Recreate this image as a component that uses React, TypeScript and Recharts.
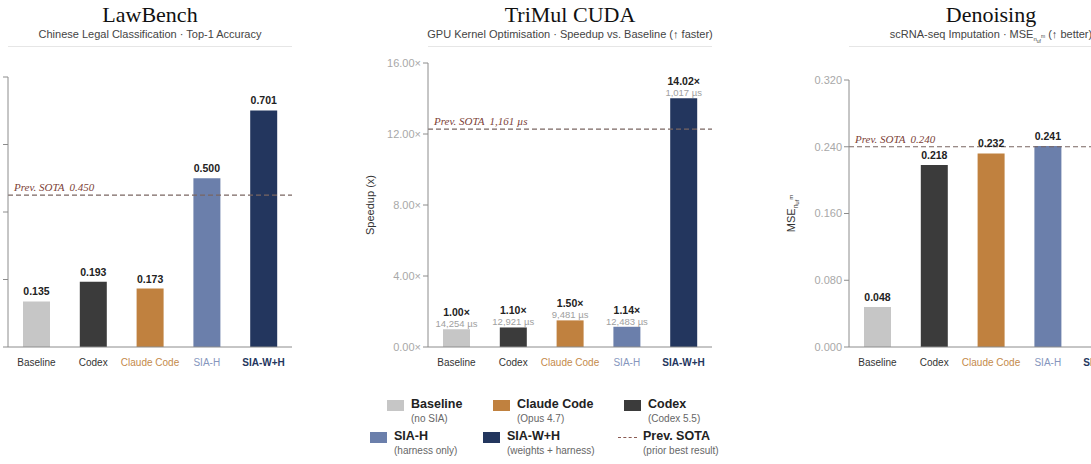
import React from 'react';
import { BarChart, Bar, XAxis, YAxis, Cell, LabelList, ReferenceLine } from 'recharts';

// categories shared by the three panels
const CATEGORIES = ['Baseline', 'Codex', 'Claude Code', 'SIA-H', 'SIA-W+H'];

// LawBench – top-1 accuracy
const LAW_VALUES = [0.135, 0.193, 0.173, 0.5, 0.701];
const LAW_TICKS = [0, 0.2, 0.4, 0.6, 0.8];
const LAW_SOTA = 0.45;

// TriMul CUDA – speedup vs baseline, runtime in µs
const TRIMUL_SPEEDUP = [1.0, 1.1, 1.5, 1.14, 14.02];
const TRIMUL_US = ['14,254 µs', '12,921 µs', '9,481 µs', '12,483 µs', '1,017 µs'];
const TRIMUL_TICKS = [0, 4, 8, 12, 16];
const TRIMUL_SOTA = 12.28; // 14,254 / 1,161
const TRIMUL_SOTA_TEXT = '1,161 µs';

// Denoising – MSE
const DENOISE_VALUES = [0.048, 0.218, 0.232, 0.241, 0.29];
const DENOISE_TICKS = [0, 0.08, 0.16, 0.24, 0.32];
const DENOISE_SOTA = 0.24;

const BAR_COLORS = ['#c6c6c6', '#3b3b3b', '#c0813f', '#6b7fab', '#23365e'];
const TICK_COLORS = ['#333333', '#333333', '#c48a4a', '#8696bd', '#23365e'];

// legend
const LEGEND_LABELS = ['Baseline', 'Claude Code', 'Codex', 'SIA-H', 'SIA-W+H', 'Prev. SOTA'];
const LEGEND_NOTES = ['(no SIA)', '(Opus 4.7)', '(Codex 5.5)', '(harness only)', '(weights + harness)', '(prior best result)'];
const LEGEND_COLORS = ['#c6c6c6', '#c0813f', '#3b3b3b', '#6b7fab', '#23365e', null];

const SANS = '"Liberation Sans", Arial, Helvetica, sans-serif';
const SERIF = '"Liberation Serif", "Times New Roman", serif';

const PLOT_W = 284;
const PLOT_BOTTOM = 347;
const Y_AXIS_W = 70;
const CHART_H = 400;
const X_AXIS_H = 30;

function XTick(props: any) {
  const { x, y, payload } = props;
  const i = CATEGORIES.indexOf(payload.value);
  return (
    <text
      x={x}
      y={y + 19}
      textAnchor="middle"
      fontSize={10}
      fontFamily={SANS}
      fontWeight={i === 4 ? 700 : 400}
      fill={TICK_COLORS[i]}
    >
      {payload.value}
    </text>
  );
}

function SotaLabel(props: any) {
  const { viewBox, text } = props;
  if (!viewBox) return null;
  return (
    <text
      x={viewBox.x + 6}
      y={viewBox.y - 4}
      fontSize={11}
      fontStyle="italic"
      fontFamily={SERIF}
      fill="#7d3f38"
    >
      Prev. SOTA
      <tspan dx={5}>{text}</tspan>
    </text>
  );
}

function YTitle(props: any) {
  const { viewBox, text, mse } = props;
  if (!viewBox) return null;
  const x = viewBox.x + 16;
  const y = viewBox.y + viewBox.height / 2;
  return (
    <text
      x={x}
      y={y}
      transform={`rotate(-90 ${x} ${y})`}
      textAnchor="middle"
      fontSize={11}
      fontFamily={SANS}
      fill="#333"
    >
      {text}
      {mse && (
        <>
          <tspan fontSize={7} dy={3}>n</tspan>
          <tspan fontSize={5.5} dy={1}>uf</tspan>
          <tspan fontSize={6} dy={-6}>m</tspan>
        </>
      )}
    </text>
  );
}

function simpleValueLabel(fmt: (v: number) => string) {
  return (props: any) => {
    const { x, y, width, value } = props;
    return (
      <text
        x={x + width / 2}
        y={y - 6}
        textAnchor="middle"
        fontSize={10.5}
        fontWeight={700}
        fontFamily={SANS}
        fill="#222"
      >
        {fmt(value)}
      </text>
    );
  };
}

function Panel(props: any) {
  const { plotLeft, plotTop, title, subtitle, data, ticks, fmt, sota, sotaText, yTitle, children } = props;
  const chartLeft = plotLeft - Y_AXIS_W;
  return (
    <>
      <div
        style={{
          position: 'absolute',
          left: plotLeft - 80,
          width: PLOT_W + 160,
          top: 2,
          textAlign: 'center',
          fontFamily: SERIF,
          fontSize: 22,
          lineHeight: '26px',
          color: '#111',
          whiteSpace: 'nowrap'
        }}
      >
        {title}
      </div>
      <div
        style={{
          position: 'absolute',
          left: plotLeft - 80,
          width: PLOT_W + 160,
          top: 28,
          textAlign: 'center',
          fontFamily: SANS,
          fontSize: 11,
          lineHeight: '13px',
          color: '#444',
          whiteSpace: 'nowrap'
        }}
      >
        {subtitle}
      </div>
      <div style={{ position: 'absolute', left: plotLeft, width: PLOT_W, top: 46, height: 1, background: '#e6e6e6' }} />
      <div style={{ position: 'absolute', left: chartLeft, top: 0 }}>
        <BarChart
          width={Y_AXIS_W + PLOT_W + 10}
          height={CHART_H}
          data={data}
          margin={{ top: plotTop, right: 10, bottom: CHART_H - PLOT_BOTTOM - X_AXIS_H, left: 0 }}
        >
          <XAxis
            dataKey="name"
            height={X_AXIS_H}
            interval={0}
            tickLine={false}
            tickSize={0}
            tickMargin={0}
            stroke="#8c8c8c"
            tick={<XTick />}
          />
          <YAxis
            width={Y_AXIS_W}
            domain={[ticks[0], ticks[ticks.length - 1]]}
            ticks={ticks}
            tickFormatter={fmt}
            stroke="#8c8c8c"
            tickSize={5}
            tickMargin={2}
            tick={{ fontSize: 11, fill: '#a8a8a8', fontFamily: SANS }}
            label={yTitle}
          />
          <ReferenceLine
            y={sota}
            stroke="#7a6662"
            strokeDasharray="5 3"
            strokeWidth={1.2}
            label={<SotaLabel text={sotaText} />}
          />
          <Bar dataKey="value" barSize={27} isAnimationActive={false}>
            {data.map((_: any, i: number) => (
              <Cell key={i} fill={BAR_COLORS[i]} />
            ))}
            {children}
          </Bar>
        </BarChart>
      </div>
    </>
  );
}

function Legend() {
  // x of swatch, x of text, row
  const pos = [
    { sx: 387, tx: 411, row: 0 },
    { sx: 493, tx: 517, row: 0 },
    { sx: 624, tx: 648, row: 0 },
    { sx: 370, tx: 394, row: 1 },
    { sx: 483, tx: 507, row: 1 },
    { sx: 618, tx: 643, row: 1 }
  ];
  return (
    <>
      {LEGEND_LABELS.map((label, i) => {
        const p = pos[i];
        const top = p.row === 0 ? 398 : 430;
        const color = LEGEND_COLORS[i];
        return (
          <React.Fragment key={label}>
            {color ? (
              <div style={{ position: 'absolute', left: p.sx, top: top + 2, width: 17, height: 11, background: color }} />
            ) : (
              <div
                style={{
                  position: 'absolute',
                  left: p.sx,
                  top: top + 7,
                  width: 19,
                  height: 0,
                  borderTop: '1.5px dashed #8a5a52'
                }}
              />
            )}
            <div
              style={{
                position: 'absolute',
                left: p.tx,
                top: top - 1,
                fontFamily: SANS,
                fontWeight: 700,
                fontSize: 12.5,
                lineHeight: '15px',
                color: '#222',
                whiteSpace: 'nowrap'
              }}
            >
              {label}
            </div>
            <div
              style={{
                position: 'absolute',
                left: p.tx,
                top: top + 15,
                fontFamily: SANS,
                fontSize: 10,
                lineHeight: '12px',
                color: '#666',
                whiteSpace: 'nowrap'
              }}
            >
              {LEGEND_NOTES[i]}
            </div>
          </React.Fragment>
        );
      })}
    </>
  );
}

export default function App() {
  const lawData = CATEGORIES.map((name, i) => ({ name, value: LAW_VALUES[i] }));
  const triData = CATEGORIES.map((name, i) => ({ name, value: TRIMUL_SPEEDUP[i], us: TRIMUL_US[i] }));
  const denData = CATEGORIES.map((name, i) => ({ name, value: DENOISE_VALUES[i] }));

  const speedupLabel = (props: any) => {
    const { x, y, width, value } = props;
    return (
      <text x={x + width / 2} y={y - 13} textAnchor="middle" fontSize={10.5} fontWeight={700} fontFamily={SANS} fill="#222">
        {value.toFixed(2)}×
      </text>
    );
  };
  const usLabel = (props: any) => {
    const { x, y, width, value } = props;
    return (
      <text x={x + width / 2} y={y - 2} textAnchor="middle" fontSize={9.5} fontFamily={SANS} fill="#a0a0a0">
        {value}
      </text>
    );
  };

  return (
    <div
      style={{
        position: 'absolute',
        left: 0,
        top: 0,
        width: 1091,
        height: 464,
        overflow: 'hidden',
        background: '#fff'
      }}
    >
      <Panel
        plotLeft={8}
        plotTop={77}
        title="LawBench"
        subtitle="Chinese Legal Classification · Top-1 Accuracy"
        data={lawData}
        ticks={LAW_TICKS}
        fmt={() => ''}
        sota={LAW_SOTA}
        sotaText={LAW_SOTA.toFixed(3)}
      >
        <LabelList dataKey="value" content={simpleValueLabel((v) => v.toFixed(3))} />
      </Panel>
      <Panel
        plotLeft={428}
        plotTop={63}
        title="TriMul CUDA"
        subtitle="GPU Kernel Optimisation · Speedup vs. Baseline (↑ faster)"
        data={triData}
        ticks={TRIMUL_TICKS}
        fmt={(v: number) => `${v.toFixed(2)}×`}
        sota={TRIMUL_SOTA}
        sotaText={TRIMUL_SOTA_TEXT}
        yTitle={<YTitle text="Speedup (x)" />}
      >
        <LabelList dataKey="value" content={speedupLabel} />
        <LabelList dataKey="us" content={usLabel} />
      </Panel>
      <Panel
        plotLeft={849}
        plotTop={80}
        title="Denoising"
        subtitle={
          <>
            scRNA-seq Imputation · MSE
            <sub style={{ fontSize: 6, lineHeight: 0 }}>
              n<sub style={{ fontSize: 5, lineHeight: 0 }}>uf</sub>
              <sup style={{ fontSize: 5, lineHeight: 0 }}>m</sup>
            </sub>{' '}
            (↑ better)
          </>
        }
        data={denData}
        ticks={DENOISE_TICKS}
        fmt={(v: number) => v.toFixed(3)}
        sota={DENOISE_SOTA}
        sotaText={DENOISE_SOTA.toFixed(3)}
        yTitle={<YTitle text="MSE" mse />}
      >
        <LabelList dataKey="value" content={simpleValueLabel((v) => v.toFixed(3))} />
      </Panel>
      <Legend />
    </div>
  );
}
